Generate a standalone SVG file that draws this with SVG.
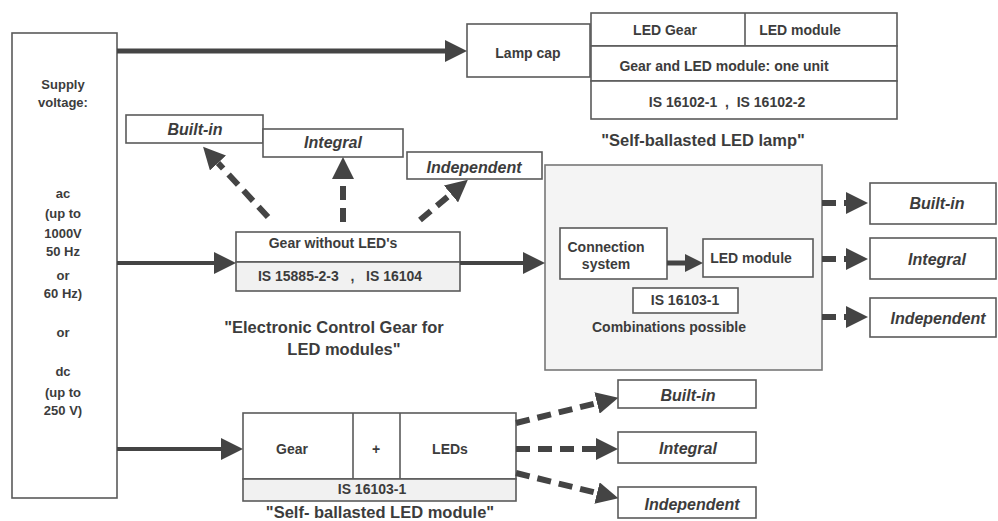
<svg xmlns="http://www.w3.org/2000/svg" width="998" height="521" viewBox="0 0 998 521">
<style>
.bx{fill:#fff;stroke:#5a5a5a;stroke-width:1.6}
.gr{fill:#f1f1f1;stroke:#5a5a5a;stroke-width:1.6}
.big{fill:#f4f4f4;stroke:#777;stroke-width:1.6}
text{font-family:"Liberation Sans",Arial,sans-serif;font-weight:bold;fill:#3c3c3c;text-anchor:middle;dominant-baseline:central}
.s{font-size:13px}
.m{font-size:14px}
.c{font-size:16.5px}
.i{font-size:16px;font-style:italic}
.ln{stroke:#444;fill:none}
.sol{stroke-width:5}
.dash{stroke-width:6;stroke-dasharray:14 8}
</style>
<defs>
<marker id="ah" markerUnits="userSpaceOnUse" markerWidth="22" markerHeight="22" refX="0" refY="11" orient="auto" viewBox="0 0 22 22">
<path d="M0,0 L22,11 L0,22 z" fill="#444"/>
</marker>
<marker id="ahs" markerUnits="userSpaceOnUse" markerWidth="18" markerHeight="18" refX="0" refY="9" orient="auto" viewBox="0 0 18 18">
<path d="M0,0 L18,9 L0,18 z" fill="#444"/>
</marker>
</defs>

<g id="supply">
<rect class="bx" x="12" y="33" width="105" height="465"/>
<text class="s" x="63" y="84">Supply</text>
<text class="s" x="63" y="102">voltage:</text>
<text class="s" x="63" y="193">ac</text>
<text class="s" x="63" y="213">(up to</text>
<text class="s" x="63" y="233">1000V</text>
<text class="s" x="63" y="251">50 Hz</text>
<text class="s" x="63" y="275">or</text>
<text class="s" x="63" y="293">60 Hz)</text>
<text class="s" x="63" y="332">or</text>
<text class="s" x="63" y="371">dc</text>
<text class="s" x="63" y="392">(up to</text>
<text class="s" x="63" y="410">250 V)</text>
</g>

<g id="lamp-cap">
<rect class="bx" x="467" y="24" width="123" height="53"/>
<text class="m" x="528" y="53">Lamp cap</text>
</g>

<g id="self-ballasted-lamp">
<rect class="bx" x="591" y="13" width="306" height="33"/>
<line x1="745" y1="13" x2="745" y2="46" stroke="#5a5a5a" stroke-width="1.6"/>
<rect class="bx" x="591" y="46" width="306" height="35"/>
<rect class="bx" x="591" y="81" width="306" height="38"/>
<text class="m" x="665" y="30">LED Gear</text>
<text class="m" x="800" y="30">LED module</text>
<text class="m" x="724" y="66">Gear and LED module: one unit</text>
<text class="m" x="727" y="102" xml:space="preserve">IS 16102-1  ,  IS 16102-2</text>
<text class="c" x="703" y="140">"Self-ballasted LED lamp"</text>
</g>

<g id="top-builtin"><rect class="bx" x="126" y="115" width="137" height="28"/><text class="i" x="195" y="129">Built-in</text></g>
<g id="top-integral"><rect class="bx" x="263" y="129" width="140" height="28"/><text class="i" x="333" y="142">Integral</text></g>
<g id="top-independent"><rect class="bx" x="407" y="152" width="135" height="27"/><text class="i" x="474" y="167">Independent</text></g>

<g id="control-gear">
<rect class="bx" x="236" y="232" width="224" height="30"/>
<rect class="gr" x="236" y="262" width="224" height="29"/>
<text class="m" x="333" y="243">Gear without LED's</text>
<text class="m" x="340" y="276" xml:space="preserve">IS 15885-2-3   ,   IS 16104</text>
<text class="c" x="334" y="327">"Electronic Control Gear for</text>
<text class="c" x="344" y="349">LED modules"</text>
</g>

<g id="combination">
<rect class="big" x="545" y="165" width="277" height="205"/>
<rect class="bx" x="560" y="228" width="107" height="51"/>
<text class="m" x="606" y="247">Connection</text>
<text class="m" x="606" y="264">system</text>
<rect class="bx" x="703" y="239" width="110" height="38"/>
<text class="m" x="751" y="258">LED module</text>
<rect class="bx" x="633" y="288" width="105" height="25"/>
<text class="m" x="685" y="300">IS 16103-1</text>
<text class="m" x="669" y="327">Combinations possible</text>
</g>

<g id="right-builtin"><rect class="bx" x="870" y="183" width="126" height="41"/><text class="i" x="937" y="203">Built-in</text></g>
<g id="right-integral"><rect class="bx" x="870" y="238" width="126" height="41"/><text class="i" x="937" y="259">Integral</text></g>
<g id="right-independent"><rect class="bx" x="870" y="298" width="126" height="39"/><text class="i" x="938" y="318">Independent</text></g>

<g id="led-module">
<rect class="bx" x="243" y="413" width="273" height="66"/>
<line x1="353" y1="413" x2="353" y2="479" stroke="#5a5a5a" stroke-width="1.6"/>
<line x1="400" y1="413" x2="400" y2="479" stroke="#5a5a5a" stroke-width="1.6"/>
<rect class="gr" x="243" y="479" width="273" height="22"/>
<text class="m" x="292" y="449">Gear</text>
<text class="m" x="376" y="449">+</text>
<text class="m" x="450" y="449">LEDs</text>
<text class="m" x="372" y="489">IS 16103-1</text>
<text class="c" x="380" y="512">"Self- ballasted LED module"</text>
</g>

<g id="bot-builtin"><rect class="bx" x="618" y="380" width="138" height="28"/><text class="i" x="688" y="395">Built-in</text></g>
<g id="bot-integral"><rect class="bx" x="618" y="432" width="138" height="31"/><text class="i" x="688" y="448">Integral</text></g>
<g id="bot-independent"><rect class="bx" x="618" y="487" width="138" height="31"/><text class="i" x="692" y="504">Independent</text></g>

<g id="connectors">
<line class="ln sol" x1="117" y1="51" x2="445" y2="51" marker-end="url(#ah)"/>
<line class="ln" stroke-width="4" x1="117" y1="263" x2="214" y2="263" marker-end="url(#ah)"/>
<line class="ln" stroke-width="4" x1="460" y1="263" x2="523" y2="263" marker-end="url(#ah)"/>
<line class="ln" stroke-width="5" x1="667" y1="263" x2="685" y2="263" marker-end="url(#ahs)"/>
<line class="ln" stroke-width="4" x1="117" y1="449" x2="221" y2="449" marker-end="url(#ah)"/>

<line class="ln dash" x1="268" y1="217" x2="218" y2="163" marker-end="url(#ah)"/>
<line class="ln dash" x1="343" y1="222" x2="343" y2="179" marker-end="url(#ah)"/>
<line class="ln dash" x1="420" y1="220" x2="451" y2="194" marker-end="url(#ah)"/>

<line class="ln dash" x1="822" y1="203" x2="846" y2="203" marker-end="url(#ah)"/>
<line class="ln dash" x1="822" y1="259" x2="846" y2="259" marker-end="url(#ah)"/>
<line class="ln dash" x1="822" y1="317" x2="846" y2="317" marker-end="url(#ah)"/>

<line class="ln dash" x1="516" y1="423" x2="597" y2="403" marker-end="url(#ah)"/>
<line class="ln dash" x1="516" y1="449" x2="596" y2="449" marker-end="url(#ah)"/>
<line class="ln dash" x1="516" y1="473" x2="597" y2="493" marker-end="url(#ah)"/>
</g>
</svg>
